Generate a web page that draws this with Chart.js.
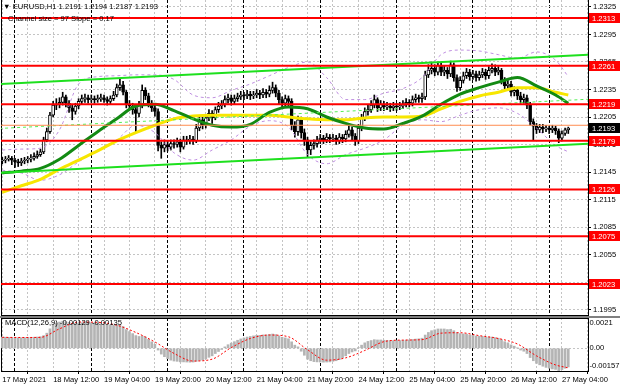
<!DOCTYPE html>
<html>
<head>
<meta charset="utf-8">
<script src="https://cdn.jsdelivr.net/npm/chart.js@4/dist/chart.umd.min.js"></script>
<style>
html,body{margin:0;padding:0;background:#fff;}
#wrap{position:relative;width:620px;height:388px;overflow:hidden;background:#fff;}
canvas{position:absolute;left:0;}
#main{top:0;}
#macd{top:316px;}
#sep{position:absolute;left:0;top:316px;width:620px;height:2px;background:#808080;}
.txt{position:absolute;font-family:'Liberation Sans',Arial,sans-serif;font-size:7.6px;line-height:10px;color:#000;white-space:pre;}
</style>
</head>
<body>
<div id="wrap">
  <canvas id="main" width="620" height="316"></canvas>
  <div id="sep"></div>
  <canvas id="macd" width="620" height="72"></canvas>
  <div class="txt" style="left:3px;top:2px;">▼ EURUSD,H1 1.2191 1.2194 1.2187 1.2193</div>
  <div class="txt" style="left:8px;top:14px;">Channel size = 97 Slope = 0.17</div>
  <div class="txt" style="left:5px;top:318px;">MACD(12,26,9) -0.00129 -0.00135</div>
</div>
<script>
const FONT_FAMILY = "'Liberation Sans', Arial, sans-serif";
const FONT_SIZE = 7.6;
Chart.defaults.font.family = FONT_FAMILY;
Chart.defaults.font.size = FONT_SIZE;
Chart.defaults.color = '#000';

// ---------------- data ----------------
// hourly bars; bar 0 = 18 May 00:00, bar -4 = 17 May 20:00 (weekend skipped)
const firstBar = -4;
const firstOpen = 1.2157;
const closes = [
 1.2158,1.2159,1.2160,1.2158,
 1.2156,1.2155,1.2157,1.2158,1.2159,1.2160,1.2162,1.2164,1.2167,1.2180,
 1.2189,1.2207,1.2218,1.2219,1.2221,1.2227,1.2220,1.2215,1.2211,1.2217,
 1.2222,1.2225,1.2226,1.2224,1.2225,1.2224,1.2225,1.2226,1.2224,1.2222,
 1.2225,1.2229,1.2237,1.2240,1.2232,1.2219,1.2217,1.2213,1.2209,1.2218,
 1.2234,1.2228,1.2220,1.2215,1.2211,1.2174,1.2171,1.2175,1.2172,1.2176,
 1.2175,1.2178,1.2172,1.2180,1.2179,1.2181,1.2179,1.2193,1.2202,1.2196,
 1.2204,1.2209,1.2204,1.2213,1.2217,1.2219,1.2224,1.2226,1.2222,1.2225,
 1.2227,1.2229,1.2228,1.2230,1.2228,1.2229,1.2231,1.2229,1.2232,1.2230,
 1.2234,1.2237,1.2231,1.2224,1.2220,1.2225,1.2222,1.2196,1.2189,1.2202,
 1.2188,1.2180,1.2169,1.2174,1.2176,1.2180,1.2182,1.2180,1.2183,1.2181,
 1.2182,1.2179,1.2183,1.2181,1.2186,1.2191,1.2184,1.2179,1.2193,1.2204,
 1.2211,1.2213,1.2218,1.2224,1.2215,1.2219,1.2216,1.2217,1.2215,1.2217,
 1.2216,1.2217,1.2219,1.2221,1.2220,1.2224,1.2226,1.2225,1.2227,1.2251,
 1.2256,1.2258,1.2254,1.2261,1.2254,1.2256,1.2252,1.2262,1.2248,1.2237,
 1.2245,1.2250,1.2254,1.2249,1.2252,1.2248,1.2251,1.2254,1.2250,1.2256,
 1.2258,1.2254,1.2256,1.2245,1.2239,1.2241,1.2232,1.2234,1.2228,1.2224,
 1.2226,1.2218,1.2200,1.2195,1.2191,1.2194,1.2192,1.2193,1.2191,1.2193,
 1.2190,1.2182,1.2187,1.2191,1.2193
];
const highs = [
 1.2161,1.2162,1.2163,1.2162,
 1.2160,1.2159,1.2160,1.2161,1.2162,1.2164,1.2166,1.2168,1.2170,1.2183,
 1.2193,1.2210,1.2222,1.2225,1.2226,1.2232,1.2229,1.2223,1.2218,1.2220,
 1.2225,1.2229,1.2230,1.2229,1.2229,1.2228,1.2229,1.2230,1.2229,1.2227,
 1.2228,1.2233,1.2241,1.2247,1.2244,1.2234,1.2223,1.2220,1.2216,1.2222,
 1.2240,1.2237,1.2231,1.2223,1.2219,1.2214,1.2178,1.2180,1.2179,1.2180,
 1.2180,1.2182,1.2181,1.2184,1.2184,1.2185,1.2184,1.2197,1.2206,1.2205,
 1.2207,1.2213,1.2212,1.2216,1.2221,1.2223,1.2228,1.2230,1.2229,1.2229,
 1.2231,1.2233,1.2232,1.2234,1.2233,1.2233,1.2235,1.2234,1.2236,1.2235,
 1.2239,1.2243,1.2240,1.2234,1.2227,1.2229,1.2228,1.2225,1.2200,1.2206,
 1.2205,1.2192,1.2183,1.2178,1.2180,1.2184,1.2186,1.2185,1.2187,1.2186,
 1.2186,1.2185,1.2187,1.2186,1.2190,1.2195,1.2194,1.2187,1.2197,1.2208,
 1.2215,1.2218,1.2223,1.2229,1.2226,1.2223,1.2222,1.2221,1.2220,1.2221,
 1.2220,1.2221,1.2223,1.2225,1.2224,1.2228,1.2230,1.2229,1.2231,1.2255,
 1.2262,1.2265,1.2262,1.2265,1.2264,1.2261,1.2259,1.2266,1.2264,1.2251,
 1.2249,1.2254,1.2258,1.2257,1.2256,1.2255,1.2255,1.2258,1.2257,1.2260,
 1.2263,1.2262,1.2260,1.2258,1.2248,1.2245,1.2244,1.2238,1.2237,1.2232,
 1.2230,1.2229,1.2221,1.2203,1.2198,1.2197,1.2197,1.2196,1.2195,1.2196,
 1.2195,1.2192,1.2190,1.2193,1.2194
];
const lows = [
 1.2154,1.2155,1.2157,1.2153,
 1.2150,1.2151,1.2152,1.2154,1.2155,1.2156,1.2158,1.2160,1.2162,1.2165,
 1.2178,1.2187,1.2205,1.2213,1.2215,1.2218,1.2216,1.2210,1.2202,1.2208,
 1.2214,1.2219,1.2221,1.2220,1.2221,1.2220,1.2221,1.2222,1.2221,1.2218,
 1.2219,1.2223,1.2227,1.2234,1.2229,1.2215,1.2213,1.2208,1.2189,1.2205,
 1.2215,1.2224,1.2216,1.2211,1.2206,1.2168,1.2160,1.2167,1.2168,1.2169,
 1.2171,1.2172,1.2167,1.2170,1.2175,1.2176,1.2175,1.2177,1.2190,1.2192,
 1.2193,1.2201,1.2198,1.2202,1.2210,1.2214,1.2216,1.2220,1.2218,1.2219,
 1.2222,1.2224,1.2224,1.2225,1.2224,1.2225,1.2226,1.2225,1.2226,1.2226,
 1.2227,1.2231,1.2227,1.2219,1.2214,1.2216,1.2217,1.2191,1.2183,1.2185,
 1.2182,1.2174,1.2161,1.2164,1.2170,1.2172,1.2176,1.2176,1.2177,1.2177,
 1.2178,1.2175,1.2176,1.2177,1.2178,1.2183,1.2180,1.2174,1.2176,1.2190,
 1.2201,1.2207,1.2210,1.2215,1.2211,1.2212,1.2212,1.2213,1.2211,1.2212,
 1.2212,1.2213,1.2214,1.2216,1.2216,1.2217,1.2221,1.2221,1.2221,1.2224,
 1.2248,1.2252,1.2250,1.2251,1.2250,1.2250,1.2247,1.2249,1.2244,1.2233,
 1.2234,1.2242,1.2247,1.2245,1.2246,1.2244,1.2245,1.2248,1.2246,1.2247,
 1.2253,1.2250,1.2251,1.2241,1.2235,1.2236,1.2228,1.2228,1.2224,1.2220,
 1.2220,1.2214,1.2196,1.2180,1.2187,1.2188,1.2188,1.2189,1.2187,1.2188,
 1.2186,1.2177,1.2179,1.2185,1.2187
];
const macdMain = [
 0.00078,0.00077,0.00076,0.00075,
 0.00074,0.00073,0.00073,0.00074,0.00075,0.00076,0.00077,0.00078,0.00080,0.00088,
 0.00105,0.00135,0.00160,0.00175,0.00182,0.00188,0.00185,0.00180,0.00172,0.00172,
 0.00175,0.00178,0.00180,0.00180,0.00178,0.00176,0.00174,0.00170,0.00167,0.00162,
 0.00160,0.00160,0.00162,0.00160,0.00150,0.00130,0.00116,0.00102,0.00088,0.00082,
 0.00085,0.00078,0.00062,0.00045,0.00028,-0.00012,-0.00040,-0.00058,-0.00072,-0.00082,
 -0.00088,-0.00090,-0.00094,-0.00094,-0.00095,-0.00096,-0.00095,-0.00090,-0.00084,-0.00082,
 -0.00074,-0.00062,-0.00052,-0.00036,-0.00022,-0.00008,0.00010,0.00025,0.00036,0.00046,
 0.00056,0.00065,0.00072,0.00078,0.00082,0.00086,0.00090,0.00090,0.00093,0.00093,
 0.00096,0.00099,0.00095,0.00086,0.00076,0.00072,0.00066,0.00045,0.00022,0.00010,
 -0.00020,-0.00048,-0.00075,-0.00086,-0.00092,-0.00094,-0.00095,-0.00096,-0.00095,-0.00094,
 -0.00090,-0.00086,-0.00078,-0.00066,-0.00052,-0.00036,-0.00025,-0.00018,0.00005,0.00022,
 0.00038,0.00048,0.00054,0.00060,0.00058,0.00058,0.00056,0.00055,0.00053,0.00053,
 0.00054,0.00054,0.00055,0.00057,0.00058,0.00061,0.00064,0.00066,0.00070,0.00092,
 0.00110,0.00122,0.00128,0.00134,0.00134,0.00134,0.00130,0.00132,0.00122,0.00108,
 0.00102,0.00100,0.00098,0.00092,0.00090,0.00085,0.00083,0.00082,0.00078,0.00078,
 0.00078,0.00074,0.00070,0.00060,0.00046,0.00038,0.00024,0.00015,0.00002,-0.00012,
 -0.00020,-0.00036,-0.00064,-0.00086,-0.00104,-0.00114,-0.00124,-0.00132,-0.00138,-0.00143,
 -0.00146,-0.00157,-0.00148,-0.00138,-0.00129
];
// indicator lines read at every 6th bar
const sampleBars = [-4,2,8,14,20,26,32,38,44,50,56,62,68,74,80,86,92,98,104,110,116,122,128,134,140,146,152,158,164,170,174];
const maGreen = [1.2144,1.2146,1.2149,1.2159,1.2174,1.2189,1.2203,1.2217,1.2219,1.2212,1.2203,1.2196,1.2194,1.2197,1.2210,1.2216,1.2214,1.2205,1.2198,1.2193,1.2192,1.2198,1.2206,1.2219,1.2230,1.2237,1.2243,1.2248,1.2239,1.2229,1.2220];
const maYellow = [1.2123,1.2130,1.2137,1.2148,1.2158,1.2168,1.2179,1.2188,1.2196,1.2203,1.2206,1.2207,1.2207,1.2207,1.2207,1.2205,1.2203,1.2202,1.2202,1.2204,1.2205,1.2205,1.2206,1.2214,1.2222,1.2228,1.2232,1.2237,1.2237,1.2232,1.2229];
const bandUpper = [1.2169,1.2170,1.2171,1.2191,1.2241,1.2249,1.2250,1.2251,1.2251,1.2246,1.2229,1.2226,1.2234,1.2241,1.2250,1.2259,1.2265,1.2248,1.2224,1.2224,1.2231,1.2236,1.2248,1.2273,1.2278,1.2277,1.2273,1.2269,1.2276,1.2267,1.2249];
const bandLower = [1.2147,1.2144,1.2136,1.2142,1.2156,1.2169,1.2180,1.2196,1.2188,1.2166,1.2158,1.2169,1.2180,1.2195,1.2201,1.2194,1.2164,1.2154,1.2164,1.2171,1.2180,1.2196,1.2202,1.2200,1.2207,1.2213,1.2215,1.2209,1.2193,1.2174,1.2167];
const macdSignal = [0.00076,0.00075,0.00076,0.00135,0.00182,0.00180,0.00160,0.00110,0.00044,-0.00035,-0.00088,-0.00075,0.00005,0.00068,0.00092,0.00080,-0.00010,-0.00082,-0.00066,-0.00015,0.00046,0.00057,0.00060,0.00105,0.00108,0.00088,0.00068,0.00030,-0.00052,-0.00115,-0.00135];

const levelPrices = [1.2313, 1.2261, 1.2219, 1.2179, 1.2126, 1.2075, 1.2023];
const orangeLevel = 1.2196;
const channelBars = [-5, 181];
const channelLower = [1.2144, 1.2176];
const channelSize = 0.0097;

const priceTicks = [1.2325,1.2295,1.2265,1.2235,1.2205,1.2175,1.2145,1.2115,1.2085,1.2055,1.2025,1.1995];
const macdTicks = [0.0021, 0, -0.00157];
const macdTickText = ['0.0021', '0.00', '-0.00157'];
const timeTickBars = [-4,12,28,44,60,76,92,108,124,140,156,172];
const timeTickText = ['17 May 2021','18 May 12:00','19 May 04:00','19 May 20:00','20 May 12:00','21 May 04:00','21 May 20:00','24 May 12:00','25 May 04:00','25 May 20:00','26 May 12:00','27 May 04:00'];
const gridBars = [-4,4,12,20,28,36,44,52,60,68,76,84,92,100,108,116,124,132,140,148,156,164,172,180];
const daySepBars = [0,24,48,72,96,120,144,168];
const view = {xMin:-4.4, xMax:180.2, yMin:1.19891, yMax:1.23326, macdMin:-0.00157, macdMax:0.0021};

// ---------------- build ----------------
const barIdx = closes.map((_, k) => firstBar + k);
const opens = closes.map((c, k) => k === 0 ? firstOpen : closes[k - 1]);
const bodies = barIdx.map((x, k) => ({x, y: [opens[k], closes[k]]}));
const wicks = barIdx.map((x, k) => ({x, y: [lows[k], highs[k]]}));
const bodyFill = closes.map((c, k) => c >= opens[k] ? '#ffffff' : '#000000');
const pts = arr => sampleBars.map((x, k) => ({x, y: arr[k]}));
const hline = p => [{x: view.xMin, y: p}, {x: view.xMax, y: p}];
const chan = off => channelBars.map((x, k) => ({x, y: channelLower[k] + off}));

const lineDs = (label, data, color, width, order, extra) => Object.assign({
  type: 'line', label, data, borderColor: color, borderWidth: width,
  pointRadius: 0, fill: false, order, clip: 0, xAxisID: 'x', yAxisID: 'y'
}, extra || {});

const gridAxis = (ticksArr, color, dash, h) => ({
  type: 'linear', position: 'bottom', min: view.xMin, max: view.xMax, offset: false,
  afterBuildTicks: s => { s.ticks = ticksArr.map(v => ({value: v})); },
  ticks: {display: false},
  grid: {color, lineWidth: 1, drawTicks: false, offset: false},
  border: {display: h > 0, color: '#000', width: 1, dash},
  afterFit: s => { s.height = h; }
});
const leftBorder = {
  type: 'linear', position: 'left', ticks: {display: false}, grid: {display: false},
  border: {display: true, color: '#000', width: 1},
  afterFit: s => { s.width = 1; }
};

const mainLabels = {
  id: 'mainLabels',
  afterDraw(chart) {
    const {ctx, chartArea: a, scales: {y}} = chart;
    ctx.save();
    ctx.font = FONT_SIZE + 'px ' + FONT_FAMILY;
    ctx.textBaseline = 'middle';
    ctx.textAlign = 'left';
    const box = (v, bg) => {
      const py = Math.round(y.getPixelForValue(v));
      ctx.fillStyle = bg;
      ctx.fillRect(a.right + 1, py - 5, chart.width - a.right - 1, 10);
      ctx.fillStyle = '#ffffff';
      ctx.fillText(v.toFixed(4), a.right + 4, py + 0.5);
    };
    box(closes[closes.length - 1], '#000000');
    levelPrices.forEach(p => box(p, '#ff0000'));
    ctx.restore();
  }
};

const macdLabels = {
  id: 'macdLabels',
  afterDraw(chart) {
    const {ctx, chartArea: a, scales: {y}} = chart;
    ctx.save();
    ctx.font = FONT_SIZE + 'px ' + FONT_FAMILY;
    ctx.textBaseline = 'middle';
    ctx.textAlign = 'left';
    ctx.fillStyle = '#000';
    macdTicks.forEach((v, k) => {
      let py = y.getPixelForValue(v);
      py = Math.min(Math.max(py, a.top + 5), a.bottom - 5);
      ctx.fillText(macdTickText[k], a.right + 1.5, py);
    });
    ctx.restore();
  }
};

const common = {
  responsive: false, animation: false, devicePixelRatio: 1, events: [],
  plugins: {legend: {display: false}, tooltip: {enabled: false}}
};

new Chart(document.getElementById('main'), {
  type: 'bar',
  data: {
    datasets: [
      ...levelPrices.map(p => lineDs('level', hline(p), '#ff0000', 2, 1)),
      lineDs('orange', hline(orangeLevel), '#ff8c50', 1, 2),
      lineDs('channel upper', chan(channelSize), '#1ee01e', 2, 2),
      lineDs('channel lower', chan(0), '#1ee01e', 2, 2),
      lineDs('channel mid', chan(channelSize / 2), '#55ee55', 1, 2, {borderDash: [3, 3]}),
      lineDs('MA green', pts(maGreen), '#138a13', 3, 3, {cubicInterpolationMode: 'monotone'}),
      lineDs('MA yellow', pts(maYellow), '#f7e600', 3, 4, {cubicInterpolationMode: 'monotone'}),
      lineDs('band upper', pts(bandUpper), '#bf8fe0', 1, 5, {cubicInterpolationMode: 'monotone', borderDash: [3, 3]}),
      lineDs('band lower', pts(bandLower), '#bf8fe0', 1, 5, {cubicInterpolationMode: 'monotone', borderDash: [3, 3]}),
      {type: 'bar', label: 'body', data: bodies, backgroundColor: bodyFill, borderColor: '#000',
       borderWidth: 1, borderSkipped: false, barThickness: 3, grouped: false, minBarLength: 1,
       order: 6, xAxisID: 'x', yAxisID: 'y'},
      {type: 'bar', label: 'wick', data: wicks, backgroundColor: '#000', borderWidth: 0,
       barThickness: 1, grouped: false, order: 7, xAxisID: 'x', yAxisID: 'y'}
    ]
  },
  options: Object.assign({}, common, {
    layout: {padding: 0, autoPadding: false},
    scales: {
      x: gridAxis(gridBars, '#c4c4c4', [2, 2], 1),
      xs: gridAxis(daySepBars, '#000000', [3, 2], 0),
      y: {
        type: 'linear', position: 'right', min: view.yMin, max: view.yMax,
        afterBuildTicks: s => { s.ticks = priceTicks.map(v => ({value: v})); },
        ticks: {callback: v => Number(v).toFixed(4), padding: 2, autoSkip: false, color: '#000'},
        grid: {color: '#c4c4c4', drawTicks: true, tickLength: 3, tickColor: '#000'},
        border: {display: true, color: '#000', width: 1, dash: [2, 2]},
        afterFit: s => { s.width = 32; s.paddingTop = 0; s.paddingBottom = 0; }
      },
      yl: leftBorder
    }
  }),
  plugins: [mainLabels]
});

new Chart(document.getElementById('macd'), {
  type: 'bar',
  data: {
    datasets: [
      {type: 'line', label: 'signal', data: pts(macdSignal), borderColor: '#ff0000', borderWidth: 1,
       borderDash: [2, 2], pointRadius: 0, fill: false, cubicInterpolationMode: 'monotone',
       order: 1, clip: 0, xAxisID: 'x', yAxisID: 'y'},
      {type: 'bar', label: 'MACD', data: barIdx.map((x, k) => ({x, y: macdMain[k]})),
       backgroundColor: '#b4b4b4', borderWidth: 0, barThickness: 2, grouped: false,
       order: 2, xAxisID: 'x', yAxisID: 'y'}
    ]
  },
  options: Object.assign({}, common, {
    layout: {padding: {top: 1, left: 0, right: 0, bottom: 0}, autoPadding: false},
    scales: {
      x: {
        type: 'linear', position: 'bottom', min: view.xMin, max: view.xMax, offset: false,
        afterBuildTicks: s => { s.ticks = timeTickBars.map(v => ({value: v})); },
        ticks: {display: true, align: 'start', autoSkip: false, maxRotation: 0, minRotation: 0,
                padding: 1, color: '#000', callback: (v, i) => timeTickText[i]},
        grid: {drawOnChartArea: false, drawTicks: true, tickLength: 3, tickColor: '#000', color: '#000'},
        border: {display: true, color: '#000', width: 1},
        afterFit: s => { s.height = 17; s.paddingLeft = 0; s.paddingRight = 0; }
      },
      xg: gridAxis(gridBars, '#c4c4c4', [2, 2], 0),
      xs: gridAxis(daySepBars, '#000000', [3, 2], 0),
      xt: {
        type: 'linear', position: 'top', min: view.xMin, max: view.xMax,
        ticks: {display: false}, grid: {display: false},
        border: {display: true, color: '#000', width: 1},
        afterFit: s => { s.height = 1; }
      },
      y: {
        type: 'linear', position: 'right', min: view.macdMin, max: view.macdMax,
        afterBuildTicks: s => { s.ticks = macdTicks.map(v => ({value: v})); },
        ticks: {display: false},
        grid: {color: c => (c.tick && c.tick.value === 0) ? '#c4c4c4' : 'rgba(0,0,0,0)', drawTicks: false},
        border: {display: true, color: '#000', width: 1, dash: [2, 2]},
        afterFit: s => { s.width = 32; s.paddingTop = 0; s.paddingBottom = 0; }
      },
      yl: leftBorder
    }
  }),
  plugins: [macdLabels]
});
</script>
</body>
</html>
